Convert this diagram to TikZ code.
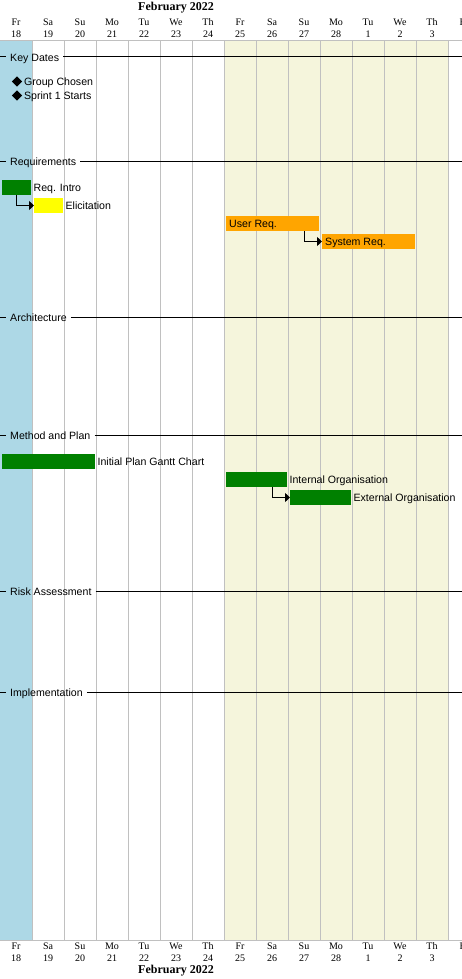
\documentclass[tikz,border=0pt]{standalone}
\usepackage{fontspec}
\setmainfont{Liberation Sans}
\newfontfamily\serifhdr{Liberation Serif}
\usetikzlibrary{arrows.meta,shapes.geometric,positioning}

\definecolor{daycol}{HTML}{ADD8E6}
\definecolor{wkcol}{HTML}{F5F5DC}
\definecolor{gridcol}{HTML}{C0C0C0}
\definecolor{taskgreen}{HTML}{008000}
\definecolor{taskorange}{HTML}{FFA500}
\definecolor{taskyellow}{HTML}{FFFF00}

\tikzset{
  daylbl/.style={font=\serifhdr\fontsize{10}{12}\selectfont, inner sep=0pt},
  monthlbl/.style={font=\serifhdr\bfseries\fontsize{12}{14}\selectfont, inner sep=0pt},
  section/.style={font=\fontsize{10.6}{12}\selectfont, inner xsep=4pt, inner ysep=0pt,
    text height=9.4pt, text depth=1.2pt, anchor=west},
  secline/.style={line width=1pt, black},
  gridline/.style={line width=1pt, gridcol},
  bar/.style={rectangle, inner sep=0pt, minimum height=15pt, anchor=west, fill=#1},
  tasktext/.style={font=\fontsize{10.6}{12}\selectfont, inner sep=0pt,
    text height=9.4pt, text depth=1.2pt, anchor=west},
  dep/.style={line width=1.4pt, black, -{Triangle[length=5pt,width=9pt]}},
  milestone/.style={diamond, fill=black, inner sep=0pt, minimum size=10.5pt},
}

\begin{document}
\begin{tikzpicture}[x=1pt, y=-1pt]
\useasboundingbox (0,0) rectangle (462,979);
\clip (0,0) rectangle (462,979);
\fill[white] (0,0) rectangle (462,979);

% shaded days
\fill[daycol] (0,41) rectangle (32,940);
\fill[wkcol] (224,41) rectangle (448,940);

% day grid
\foreach \i in {1,...,14} {
  \draw[gridline] (32*\i,41) -- (32*\i,940);
}
\draw[gridline] (0,41) -- (462,41);
\draw[gridline] (0,940) -- (462,940);
\coordinate (rightedge) at (462,0);

% month and day labels
\node[monthlbl] (monthtop) at (176,8) {February 2022};
\node[monthlbl] (monthbot) at (176,971) {February 2022};
\foreach \d/\n [count=\i from 0] in {Fr/18,Sa/19,Su/20,Mo/21,Tu/22,We/23,Th/24,
    Fr/25,Sa/26,Su/27,Mo/28,Tu/1,We/2,Th/3} {
  \node[daylbl] (dnametop\i) at (16+32*\i,22) {\d};
  \node[daylbl] (dnumtop\i) at (16+32*\i,34) {\n};
  \node[daylbl] (dnamebot\i) at (16+32*\i,946) {\d};
  \node[daylbl] (dnumbot\i) at (16+32*\i,958) {\n};
}
% next day, cut by the edge
\node[daylbl] (dnametop14) at (464,22) {Fr};
\node[daylbl] (dnamebot14) at (464,946) {Fr};

% sections
\foreach \s/\y/\t in {keydates/57/Key Dates, reqs/161.5/Requirements,
    arch/317/Architecture, method/435.5/Method and Plan,
    risk/591/Risk Assessment, impl/692/Implementation} {
  \node[section] (\s) at (6,\y) {\t};
  \draw[secline] (0,\y) -- (\s.west);
  \draw[secline] (\s.east) -- (\s.east -| rightedge);
}

% key dates
\node[milestone] (grpchosen) at (17,81.5) {};
\node[tasktext, right=1.5pt of grpchosen] (grpchosenlbl) {Group Chosen};
\node[milestone] (sprintone) at (17,95.5) {};
\node[tasktext, right=1.5pt of sprintone] (sprintonelbl) {Sprint 1 Starts};

% requirements
\node[bar=taskgreen, minimum width=29pt] (reqintro) at (2,187.5) {};
\node[tasktext, right=2pt of reqintro] (reqintrolbl) {Req. Intro};
\node[bar=taskyellow, minimum width=29pt] (elicit) at (34,205.5) {};
\node[tasktext, right=2pt of elicit] (elicitlbl) {Elicitation};
\node[bar=taskorange, minimum width=93pt] (userreq) at (226,223.5) {};
\node[tasktext] (userreqlbl) at ([xshift=3pt]userreq.west) {User Req.};
\node[bar=taskorange, minimum width=93pt] (sysreq) at (322,241.5) {};
\node[tasktext] (sysreqlbl) at ([xshift=3pt]sysreq.west) {System Req.};
\draw[dep] ([xshift=-15pt]reqintro.south east) |- (elicit.west);
\draw[dep] ([xshift=-15pt]userreq.south east) |- (sysreq.west);

% method and plan
\node[bar=taskgreen, minimum width=93pt] (initplan) at (2,461.5) {};
\node[tasktext, right=2pt of initplan] (initplanlbl) {Initial Plan Gantt Chart};
\node[bar=taskgreen, minimum width=61pt] (intorg) at (226,479.5) {};
\node[tasktext, right=2pt of intorg] (intorglbl) {Internal Organisation};
\node[bar=taskgreen, minimum width=61pt] (extorg) at (290,497.5) {};
\node[tasktext, right=2pt of extorg] (extorglbl) {External Organisation};
\draw[dep] ([xshift=-15pt]intorg.south east) |- (extorg.west);
\end{tikzpicture}
\end{document}
